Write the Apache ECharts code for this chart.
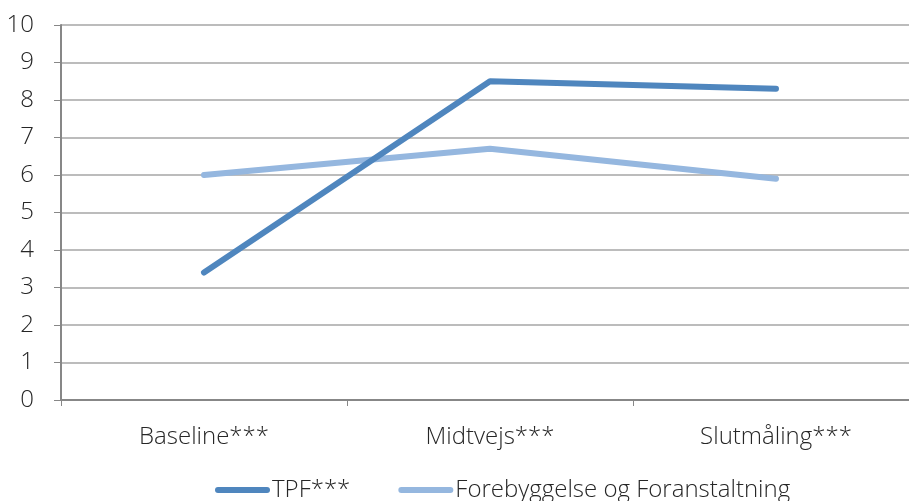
<!DOCTYPE html>
<html>
<head>
<meta charset="utf-8">
<script src="https://cdn.jsdelivr.net/npm/echarts@6/dist/echarts.min.js"></script>
<style>
  html, body { margin: 0; padding: 0; background: #fff; }
  #chart { width: 909px; height: 501px; }
</style>
</head>
<body>
<div id="chart"></div>
<script>
// Measurement points
const categories = ['Baseline***', 'Midtvejs***', 'Slutmåling***'];
// Mean scores per group
const tpfValues = [3.4, 8.5, 8.3];
const forebyggelseValues = [6.0, 6.7, 5.9];
const seriesNames = ['TPF***', 'Forebyggelse og Foranstaltning'];

const font = '"Open Sans", "Noto Sans", sans-serif';
const textColor = '#262626';
const legendIcon = 'path://M3,0 L52,0 A3,3 0 0 1 52,6 L3,6 A3,3 0 0 1 3,0 Z';

const chart = echarts.init(document.getElementById('chart'), null, { renderer: 'canvas' });
chart.setOption({
  animation: false,
  textStyle: { fontFamily: font },
  // plot area runs past the right edge of the canvas
  grid: { left: 61, width: 858, top: 25, height: 375, containLabel: false, outerBoundsMode: 'none' },
  legend: {
    top: 478,
    left: 215,
    padding: 0,
    itemWidth: 55,
    itemHeight: 6,
    itemGap: 48,
    textStyle: { fontFamily: font, fontSize: 24, fontWeight: 300, color: textColor, padding: [0, 0, 0, -3] },
    data: [
      { name: seriesNames[0], icon: legendIcon },
      { name: seriesNames[1], icon: legendIcon }
    ]
  },
  xAxis: {
    type: 'category',
    data: categories,
    boundaryGap: true,
    axisLine: { lineStyle: { color: '#878787', width: 2 } },
    axisTick: { show: true, length: 6, lineStyle: { color: '#878787', width: 1 } },
    axisLabel: { margin: 25, fontSize: 24, fontWeight: 300, color: textColor, fontFamily: font }
  },
  yAxis: {
    type: 'value',
    min: 0,
    max: 10,
    interval: 1,
    axisLine: { show: true, lineStyle: { color: '#878787', width: 2 } },
    axisTick: { show: true, length: 7, lineStyle: { color: '#878787', width: 1 } },
    axisLabel: { margin: 27, fontSize: 24, fontWeight: 300, color: textColor, fontFamily: font },
    splitLine: { lineStyle: { color: '#a6a6a6', width: 1.5 } }
  },
  series: [
    {
      name: seriesNames[0],
      type: 'line',
      data: tpfValues,
      symbol: 'none',
      lineStyle: { color: '#4f86be', width: 6, cap: 'round', join: 'round' },
      itemStyle: { color: '#4f86be' },
      z: 3
    },
    {
      name: seriesNames[1],
      type: 'line',
      data: forebyggelseValues,
      symbol: 'none',
      lineStyle: { color: '#95b7df', width: 6, cap: 'round', join: 'round' },
      itemStyle: { color: '#95b7df' },
      z: 2
    }
  ]
});
</script>
</body>
</html>
